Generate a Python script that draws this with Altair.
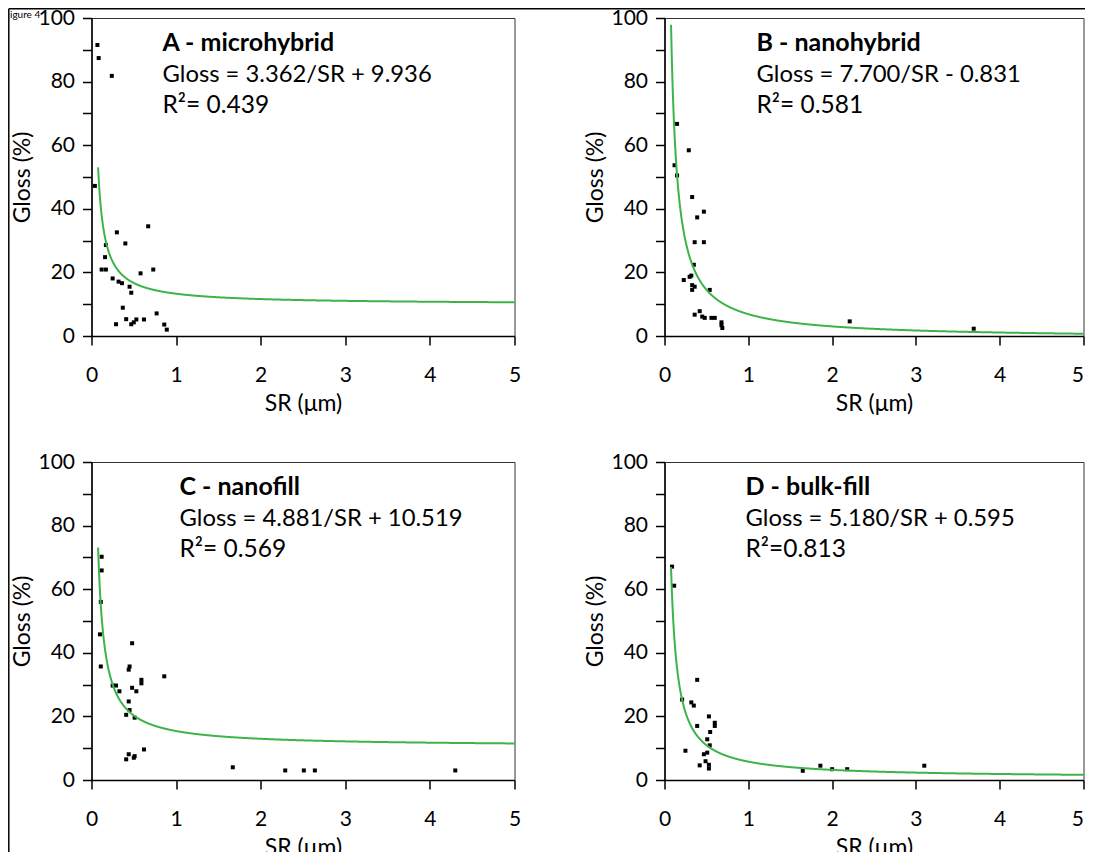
import altair as alt
import pandas as pd

# ---------------- data ----------------
A_sr = [0.07, 0.085, 0.24, 0.04, 0.30, 0.67, 0.40, 0.17, 0.16, 0.12, 0.17, 0.73, 0.58, 0.25,
        0.32, 0.36, 0.45, 0.47, 0.37, 0.77, 0.41, 0.53, 0.62, 0.29, 0.47, 0.50, 0.86, 0.89]
A_gloss = [91.5, 87.4, 81.8, 47.2, 32.6, 34.5, 29.1, 28.6, 24.8, 20.9, 20.9, 20.9, 19.7, 18.1,
           17.1, 16.6, 15.5, 13.6, 8.9, 7.1, 5.3, 5.2, 5.2, 3.7, 3.7, 4.3, 3.6, 2.0]

B_sr = [0.15, 0.29, 0.12, 0.15, 0.33, 0.47, 0.39, 0.36, 0.47, 0.35, 0.32, 0.30, 0.23, 0.33,
        0.36, 0.33, 0.54, 0.42, 0.36, 0.45, 0.48, 0.56, 0.60, 0.68, 0.68, 0.69, 2.21, 3.69]
B_gloss = [66.7, 58.4, 53.7, 50.5, 43.7, 39.1, 37.3, 29.5, 29.5, 22.4, 19.0, 18.6, 17.6, 16.0,
           15.5, 14.5, 14.5, 7.8, 6.7, 6.1, 5.7, 5.7, 5.7, 4.3, 3.4, 2.5, 4.6, 2.3]

C_sr = [0.12, 0.12, 0.11, 0.10, 0.48, 0.11, 0.45, 0.44, 0.86, 0.59, 0.59, 0.25, 0.29, 0.48,
        0.33, 0.53, 0.44, 0.45, 0.41, 0.51, 0.62, 0.44, 0.51, 0.50, 0.41,
        1.67, 2.29, 2.51, 2.64, 4.30]
C_gloss = [70.2, 65.9, 56.0, 45.8, 43.0, 35.7, 35.7, 34.7, 32.6, 31.5, 30.4, 29.7, 29.7, 29.0,
           27.9, 27.9, 24.7, 22.0, 20.5, 19.6, 9.6, 8.1, 7.5, 7.0, 6.5,
           4.0, 3.0, 3.0, 3.0, 3.0]

D_sr = [0.09, 0.115, 0.39, 0.21, 0.32, 0.35, 0.53, 0.60, 0.60, 0.39, 0.545, 0.51, 0.54, 0.25,
        0.51, 0.47, 0.49, 0.42, 0.53, 0.53, 1.65, 1.86, 2.00, 2.18, 3.10]
D_gloss = [67.1, 61.1, 31.5, 25.3, 24.4, 23.4, 20.0, 18.0, 17.0, 17.0, 15.1, 12.8, 10.9, 9.2,
           8.6, 8.1, 5.9, 4.6, 4.8, 3.6, 2.9, 4.5, 3.4, 3.4, 4.5]

# fitted model Gloss = a/SR + b (as printed on the chart)
fit_a = [3.362, 7.700, 4.881, 5.180]
fit_b = [9.936, -0.831, 10.519, 0.595]

panel_titles = ["A - microhybrid", "B - nanohybrid", "C - nanofill", "D - bulk-fill"]
equations = ["Gloss = 3.362/SR + 9.936", "Gloss = 7.700/SR - 0.831",
             "Gloss = 4.881/SR + 10.519", "Gloss = 5.180/SR + 0.595"]
r2_texts = ["R²= 0.439", "R²= 0.581", "R²= 0.569", "R²=0.813"]
x_ticks = [0, 1, 2, 3, 4, 5]
y_ticks = [0, 10, 20, 30, 40, 50, 60, 70, 80, 90, 100]
page_label = "igure 4"

FONT = "Lato"
W_LEFT, W_RIGHT, H = 423, 419, 318
GREEN = "#3cb44a"

# placement of panel A's plot area inside the canvas
PAD_L, PAD_T = 83.5, 10
CANVAS_W, CANVAS_H = 1077, 844


def encodings(right_edge):
    if right_edge:
        label_align = {"condition": {"test": "datum.value === 5", "value": "right"},
                       "value": "center"}
        x_axis = alt.Axis(values=x_ticks, title="SR (μm)", format="d", labelAlign=label_align)
    else:
        x_axis = alt.Axis(values=x_ticks, title="SR (μm)", format="d")
    x_enc = alt.X("SR:Q", scale=alt.Scale(domain=[0, 5], nice=False), axis=x_axis)
    y_enc = alt.Y("Gloss:Q", scale=alt.Scale(domain=[0, 100], nice=False),
                  axis=alt.Axis(values=y_ticks, title="Gloss (%)",
                                labelExpr="datum.value % 20 === 0 ? datum.label : ''"))
    return x_enc, y_enc


def panel(i, sr, gloss, width, right_edge=False, frame=False):
    x_enc, y_enc = encodings(right_edge)
    df = pd.DataFrame({"SR": sr, "Gloss": gloss})
    pts = alt.Chart(df).mark_square(size=16, color="black", opacity=1).encode(x=x_enc, y=y_enc)
    curve = (alt.Chart(alt.sequence(0.078, 5.001, 0.002, as_="SR"))
             .transform_calculate(Gloss=f"{fit_a[i]} / datum.SR + ({fit_b[i]})")
             .mark_line(color=GREEN, strokeWidth=2)
             .encode(x=x_enc, y=y_enc))
    one = pd.DataFrame({"t": [panel_titles[i]], "e": [equations[i]], "r": [r2_texts[i]]})
    tx = [71, 92, 88, 81][i]
    t1 = alt.Chart(one).mark_text(align="left", baseline="middle", font=FONT, fontSize=25,
                                  fontWeight="bold", color="black").encode(
        text="t:N", x=alt.value(tx), y=alt.value(25))
    t2 = alt.Chart(one).mark_text(align="left", baseline="middle", font=FONT, fontSize=23.8,
                                  color="black").encode(
        text="e:N", x=alt.value(tx), y=alt.value(57))
    t3 = alt.Chart(one).mark_text(align="left", baseline="middle", font=FONT, fontSize=24.5,
                                  color="black").encode(
        text="r:N", x=alt.value(tx), y=alt.value(88))
    layers = [pts, curve, t1, t2, t3]
    if frame:
        fr = pd.DataFrame({"lbl": [page_label]})
        left = alt.Chart(fr).mark_rule(color="black", strokeWidth=1.5).encode(
            x=alt.value(-PAD_L + 0.8), y=alt.value(-PAD_T + 0.8),
            y2=alt.value(CANVAS_H - PAD_T))
        top = alt.Chart(fr).mark_rule(color="black", strokeWidth=1.5).encode(
            x=alt.value(-PAD_L + 0.8), x2=alt.value(CANVAS_W - PAD_L),
            y=alt.value(-PAD_T + 0.8))
        lab = alt.Chart(fr).mark_text(align="left", baseline="middle", font=FONT, fontSize=10,
                                      color="black").encode(
            text="lbl:N", x=alt.value(-81.5), y=alt.value(-3.5))
        layers += [left, top, lab]
    return alt.layer(*layers).properties(width=width, height=H)


pA = panel(0, A_sr, A_gloss, W_LEFT, frame=True)
pB = panel(1, B_sr, B_gloss, W_RIGHT, right_edge=True)
pC = panel(2, C_sr, C_gloss, W_LEFT)
pD = panel(3, D_sr, D_gloss, W_RIGHT, right_edge=True)

chart = (alt.concat(pA, pB, pC, pD, columns=2,
                    spacing=alt.RowColnumber(row=126, column=150), bounds="flush")
         .properties(autosize=alt.AutoSizeParams(type="none"),
                     padding={"left": PAD_L, "top": PAD_T,
                              "right": CANVAS_W - PAD_L, "bottom": CANVAS_H - PAD_T},
                     background="white")
         .configure_view(stroke="#333333", strokeWidth=1)
         .configure_axis(labelFont=FONT, titleFont=FONT, labelFontSize=21, titleFontSize=23,
                         titleFontWeight="normal", labelColor="black", titleColor="black",
                         domainColor="black", tickColor="black", domainWidth=1.5,
                         tickWidth=1.5, tickSize=9, grid=False, labelFlush=False,
                         labelOverlap=False)
         .configure_axisX(labelPadding=19, titlePadding=7)
         .configure_axisY(labelPadding=8, titlePadding=3)
         )

chart.save("out.html", embed_options={"renderer": "svg", "actions": False})
